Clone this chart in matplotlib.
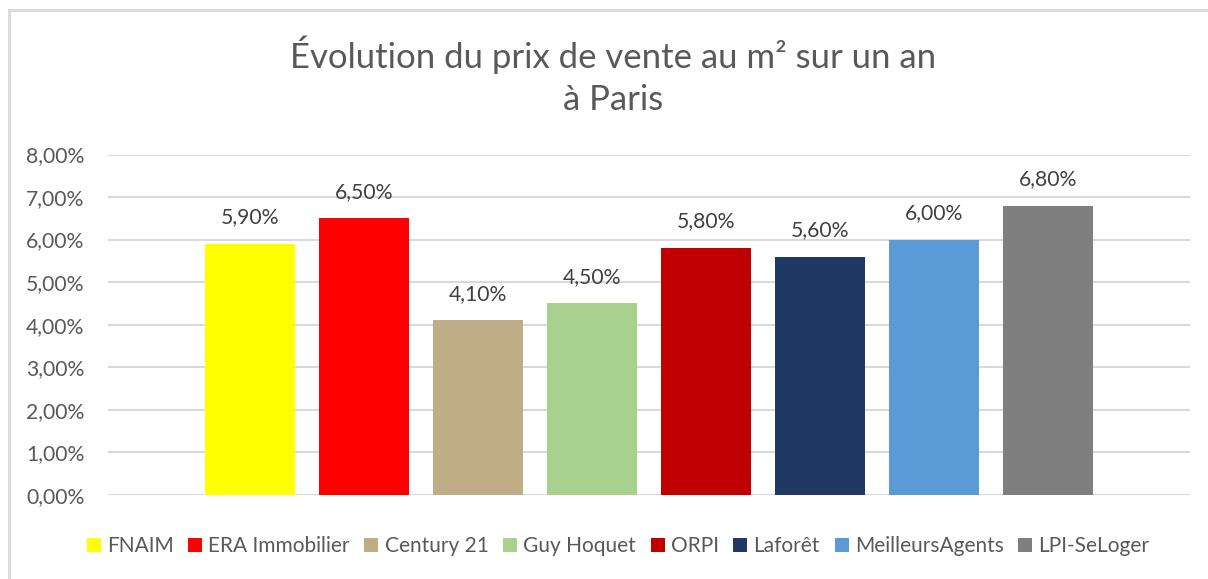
import matplotlib
matplotlib.use("Agg")
import matplotlib.pyplot as plt
from matplotlib.lines import Line2D

series = ["FNAIM", "ERA Immobilier", "Century 21", "Guy Hoquet", "ORPI",
          "Laforêt", "MeilleursAgents", "LPI-SeLoger"]
values = [5.90, 6.50, 4.10, 4.50, 5.80, 5.60, 6.00, 6.80]
colors = ["#FFFF00", "#FF0000", "#BFAD86", "#A9D18E", "#C00000",
          "#1F3864", "#5B9BD5", "#7F7F7F"]
yticks = [0, 1, 2, 3, 4, 5, 6, 7, 8]
title_lines = ["Évolution du prix de vente au m² sur un an", "à Paris"]

TXT = "#595959"
GRID = "#D9D9D9"
plt.rcParams['font.family'] = ['Lato', 'DejaVu Sans']

fig = plt.figure(figsize=(12.08, 5.79), dpi=100)
ax = fig.add_axes([108/1208, 1-494.7/579, (1190-108)/1208, (494.7-154.5)/579])

for i, (s, v, c) in enumerate(zip(series, values, colors)):
    ax.bar(i, v, width=0.79, color=c, label=s, zorder=3)
    ax.annotate(f"{v:.2f}%".replace(".", ","), (i, v), xytext=(0, 12),
                textcoords="offset points", ha="center", va="bottom",
                fontsize=15.2, color="#404040")

ax.set_xlim(-1.25, len(series) - 1 + 1.25)
ax.set_ylim(0, 8)
ax.set_yticks(yticks)
ax.set_yticklabels([f"{t:.2f}%".replace(".", ",") for t in yticks], fontsize=15.2, color=TXT)
ax.tick_params(axis='y', length=0, pad=17)
ax.set_xticks([])
ax.grid(axis='y', color=GRID, linewidth=1.5, zorder=0)
for sp in ["top", "right", "left", "bottom"]:
    ax.spines[sp].set_visible(False)

fig.text(613/1208, 1-55/579, title_lines[0], ha="center", va="center", fontsize=25, color=TXT)
fig.text(613/1208, 1-100/579, title_lines[1], ha="center", va="center", fontsize=25, color=TXT)

leg = fig.legend(loc="center", bbox_to_anchor=(618/1208, 1-546/579), ncol=8, frameon=False,
                 fontsize=15, handlelength=0.67, handleheight=0.67, handletextpad=0.3,
                 columnspacing=0.7, borderaxespad=0)
for t in leg.get_texts():
    t.set_color(TXT)

# chart area border (top and left visible)
fig.add_artist(Line2D([9/1208, 9/1208], [0, 1-10/579], color=GRID, linewidth=2, transform=fig.transFigure))
fig.add_artist(Line2D([9/1208, 1], [1-10/579, 1-10/579], color=GRID, linewidth=2, transform=fig.transFigure))

fig.savefig("out.png", dpi=100)
